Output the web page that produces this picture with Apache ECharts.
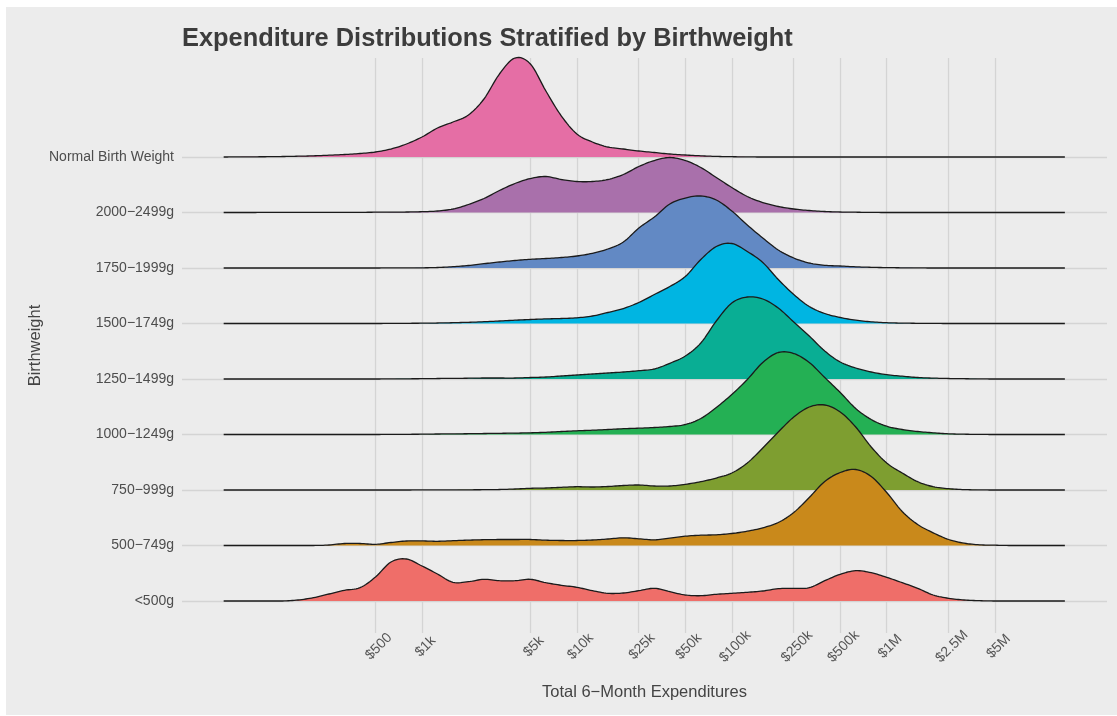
<!DOCTYPE html>
<html>
<head>
<meta charset="utf-8">
<title>Expenditure Distributions Stratified by Birthweight</title>
<script src="https://cdn.jsdelivr.net/npm/echarts@6/dist/echarts.min.js"></script>
<style>
  html, body { margin: 0; padding: 0; background: #ffffff; }
  #chart { position: absolute; left: 6px; top: 7px; width: 1111px; height: 708px; }
</style>
</head>
<body>
<div id="chart"></div>
<script>
// birthweight groups, bottom row first
const groups = ["<500g", "500\u2212749g", "750\u2212999g", "1000\u22121249g", "1250\u22121499g",
  "1500\u22121749g", "1750\u22121999g", "2000\u22122499g", "Normal Birth Weight"];

// x grid: log10 of total 6-month expenditure ($)
const logExpenditure = [
  1.72, 1.8, 1.9, 2.0, 2.1, 2.2, 2.3, 2.4, 2.5, 2.6,
  2.7, 2.8, 2.9, 3.0, 3.1, 3.2, 3.3, 3.4, 3.5, 3.6,
  3.7, 3.8, 3.9, 4.0, 4.1, 4.2, 4.3, 4.4, 4.5, 4.6,
  4.7, 4.8, 4.9, 5.0, 5.1, 5.2, 5.3, 5.4, 5.5, 5.6,
  5.7, 5.8, 5.9, 6.0, 6.1, 6.2, 6.3, 6.4, 6.5, 6.6,
  6.7, 6.8, 6.9, 7.0, 7.1, 7.15
];

// scaled densities (one row of ridges = 55.5 units)
const densLt500 = [
  0, 0, 0, 0, 0, 1, 3.3, 7, 10.7, 13.3,
  24, 39, 42, 35, 27, 18.7, 19.3, 21.7, 20.3, 20.3,
  21.7, 18.3, 15.7, 13.7, 10.3, 7.7, 8, 10.3, 12.7, 9.3,
  6, 5.3, 6.7, 7.7, 8.7, 10, 12.3, 12.7, 13.3, 20.3,
  26.7, 30.3, 28.3, 23.7, 18.3, 12.7, 6, 2.7, 1, 0.3,
  0, 0, 0, 0, 0, 0
];
const dens500 = [
  0, 0, 0, 0, 0, 0, 0, 0.5, 2, 2,
  1.2, 3, 4.5, 4.6, 4.2, 4.8, 5.4, 5.8, 6, 6,
  6, 5.3, 5, 5, 5.5, 6.5, 7.7, 6.7, 5.7, 7.3,
  9.3, 10.3, 10.7, 12, 14.3, 17.7, 23, 33, 48, 64,
  73, 76, 69, 53, 34, 21, 12.7, 6, 2.3, 0.7,
  0.3, 0, 0, 0, 0, 0
];
const dens750 = [
  0, 0, 0, 0, 0, 0, 0, 0, 0, 0,
  0, 0, 0, 0.1, 0.1, 0.1, 0.2, 0.3, 0.5, 1,
  1.7, 2, 2.7, 3.3, 3, 3.5, 4.5, 5, 4, 4,
  5.7, 8.3, 12, 17, 27, 42, 58, 73, 83, 85,
  78, 63, 43, 27, 17, 8.3, 3.3, 1.3, 0.4, 0.1,
  0, 0, 0, 0, 0, 0
];
const dens1000 = [
  0, 0, 0, 0, 0, 0, 0, 0, 0, 0,
  0, 0.1, 0.2, 0.3, 0.5, 0.6, 0.8, 1, 1.2, 1.4,
  1.7, 2.2, 3, 3.7, 4.3, 5, 5.8, 6.3, 7, 8,
  10, 16, 27, 40, 55, 72, 82, 81, 72, 57,
  42, 26, 15, 8.3, 5, 3, 1.7, 0.7, 0.3, 0.1,
  0, 0, 0, 0, 0, 0
];
const dens1250 = [
  0, 0, 0, 0, 0, 0, 0, 0, 0, 0,
  0, 0.1, 0.2, 0.3, 0.5, 0.6, 0.8, 1, 1, 1,
  1.5, 2, 3, 4, 5, 6, 7, 8.3, 10, 15.7,
  23, 36, 58, 76, 82, 80, 71, 57, 43, 28,
  17, 11, 7, 4.3, 2.8, 1.5, 0.9, 0.5, 0.3, 0.1,
  0, 0, 0, 0, 0, 0
];
const dens1500 = [
  0, 0, 0, 0, 0, 0, 0, 0, 0, 0,
  0, 0.1, 0.2, 0.3, 0.5, 0.8, 1.2, 1.8, 2.5, 3.3,
  4, 4.6, 5, 5.7, 7.5, 11, 15, 21, 29, 37,
  47, 64, 77, 80, 72, 61, 44, 29, 17, 10,
  6, 3.3, 1.7, 0.8, 0.4, 0.2, 0.1, 0, 0, 0,
  0, 0, 0, 0, 0, 0
];
const dens1750 = [
  0, 0, 0, 0, 0, 0, 0, 0, 0, 0,
  0, 0.1, 0.1, 0.2, 0.5, 1.3, 2.5, 4.3, 6, 7.5,
  8.7, 9.5, 10.5, 12, 14.7, 19, 26, 40, 51, 64,
  70, 72, 68, 57, 43, 30, 18, 10, 5, 2.7,
  2, 1.2, 0.7, 0.4, 0.2, 0.1, 0, 0, 0, 0,
  0, 0, 0, 0, 0, 0
];
const dens2000 = [
  0, 0, 0, 0.1, 0.1, 0.1, 0.1, 0.2, 0.2, 0.2,
  0.3, 0.4, 0.5, 0.8, 1.5, 3.5, 8, 14, 22, 29,
  34, 36, 33, 31, 31, 33, 38, 46, 52, 55,
  52, 45, 35, 25, 16, 10, 6, 3.5, 2, 1,
  0.5, 0.3, 0.1, 0, 0, 0, 0, 0, 0, 0,
  0, 0, 0, 0, 0, 0
];
const densNormal = [
  0, 0.1, 0.2, 0.3, 0.5, 0.8, 1.2, 1.8, 2.5, 3.5,
  5, 8, 13, 20, 29, 35, 42, 58, 83, 99,
  93, 66, 41, 23, 15, 10, 8, 6, 4.5, 3,
  2, 1.2, 0.6, 0.3, 0.1, 0, 0, 0, 0, 0,
  0, 0, 0, 0, 0, 0, 0, 0, 0, 0,
  0, 0, 0, 0, 0, 0
];

const densities = [densLt500, dens500, dens750, dens1000, dens1250, dens1500, dens1750, dens2000, densNormal];
const fillColors = ["#EF6E69", "#C9891B", "#7E9E30", "#24B054", "#09AE94", "#00B5E2", "#6289C4", "#A970AB", "#E56EA5"];

// x axis ticks
const tickDollars = [500, 1000, 5000, 10000, 25000, 50000, 100000, 250000, 500000, 1000000, 2500000, 5000000];
const tickLabels = ["$500", "$1k", "$5k", "$10k", "$25k", "$50k", "$100k", "$250k", "$500k", "$1M", "$2.5M", "$5M"];

const DENSITY_PER_ROW = 55.5;
const rowValues = groups.map((g, i) => i);
const tickLogs = tickDollars.map((d) => Math.log10(d));

const FONT = "'Liberation Sans', Arial, sans-serif";
const GRID_COLOR = "#d4d4d4";

// catmull-rom through the projected points, sampled for drawing
function smoothPoints(pts, baseY) {
  const out = [];
  const steps = 8;
  for (let k = 0; k < pts.length - 1; k++) {
    const p0 = pts[Math.max(k - 1, 0)];
    const p1 = pts[k];
    const p2 = pts[k + 1];
    const p3 = pts[Math.min(k + 2, pts.length - 1)];
    for (let s = 0; s < steps; s++) {
      const t = s / steps;
      const t2 = t * t;
      const t3 = t2 * t;
      const px = 0.5 * (2 * p1[0] + (-p0[0] + p2[0]) * t + (2 * p0[0] - 5 * p1[0] + 4 * p2[0] - p3[0]) * t2 + (-p0[0] + 3 * p1[0] - 3 * p2[0] + p3[0]) * t3);
      const py = 0.5 * (2 * p1[1] + (-p0[1] + p2[1]) * t + (2 * p0[1] - 5 * p1[1] + 4 * p2[1] - p3[1]) * t2 + (-p0[1] + 3 * p1[1] - 3 * p2[1] + p3[1]) * t3);
      out.push([px, Math.min(py, baseY)]);
    }
  }
  out.push(pts[pts.length - 1]);
  return out;
}

function renderRidge(params, api) {
  const row = api.value(0);
  const dens = densities[row];
  const pts = logExpenditure.map((x, j) => api.coord([x, row + dens[j] / DENSITY_PER_ROW]));
  const baseY = api.coord([logExpenditure[0], row])[1];
  const curve = smoothPoints(pts, baseY);
  const first = curve[0];
  const last = curve[curve.length - 1];
  const area = [[first[0], baseY]].concat(curve, [[last[0], baseY]]);
  return {
    type: "group",
    children: [
      { type: "polygon", shape: { points: area }, style: { fill: fillColors[row], stroke: null } },
      { type: "polyline", shape: { points: curve }, style: { fill: null, stroke: "#1b1b1b", lineWidth: 1.3, lineJoin: "round" } },
    ],
  };
}

const chart = echarts.init(document.getElementById("chart"), null, { renderer: "canvas" });

chart.setOption({
  animation: false,
  backgroundColor: "#ececec",
  textStyle: { fontFamily: FONT },
  title: {
    text: "Expenditure Distributions Stratified by Birthweight",
    left: 171,
    top: 14,
    textStyle: { fontFamily: FONT, fontSize: 25.4, fontWeight: "bold", color: "#3c3c3c" },
  },
  grid: { left: 176, right: 10, top: 51, bottom: 82, containLabel: false },
  xAxis: {
    type: "value",
    min: 1.451,
    max: 7.422,
    axisLine: { show: false },
    axisTick: { show: false, customValues: tickLogs },
    axisLabel: {
      customValues: tickLogs,
      rotate: 45,
      align: "center",
      verticalAlign: "middle",
      margin: 17,
      padding: [0, 0, 0, 10],
      fontSize: 14,
      color: "#555555",
      formatter: (v) => {
        let best = 0;
        tickLogs.forEach((t, k) => {
          if (Math.abs(t - v) < Math.abs(tickLogs[best] - v)) best = k;
        });
        return tickLabels[best];
      },
    },
    splitLine: { show: true, lineStyle: { color: GRID_COLOR, width: 1.3 } },
    name: "Total 6\u2212Month Expenditures",
    nameLocation: "middle",
    nameGap: 51,
    nameMoveOverlap: false,
    nameTextStyle: { fontFamily: FONT, fontSize: 16.5, color: "#444444" },
  },
  yAxis: {
    type: "value",
    min: -0.5766,
    max: 9.784,
    axisLine: { show: false },
    axisTick: { show: false, customValues: rowValues },
    axisLabel: {
      customValues: rowValues,
      margin: 8,
      fontSize: 14,
      color: "#4d4d4d",
      formatter: (v) => groups[Math.round(v)],
    },
    splitLine: { show: true, lineStyle: { color: GRID_COLOR, width: 1.3 } },
    name: "Birthweight",
    nameLocation: "middle",
    nameGap: 138,
    nameMoveOverlap: false,
    nameTextStyle: { fontFamily: FONT, fontSize: 16.5, color: "#444444" },
  },
  series: [{
    type: "custom",
    silent: true,
    // top row first so lower ridges are painted over it
    data: rowValues.slice().reverse().map((r) => [r]),
    encode: { x: -1, y: -1 },
    renderItem: renderRidge,
  }],
});
</script>
</body>
</html>
